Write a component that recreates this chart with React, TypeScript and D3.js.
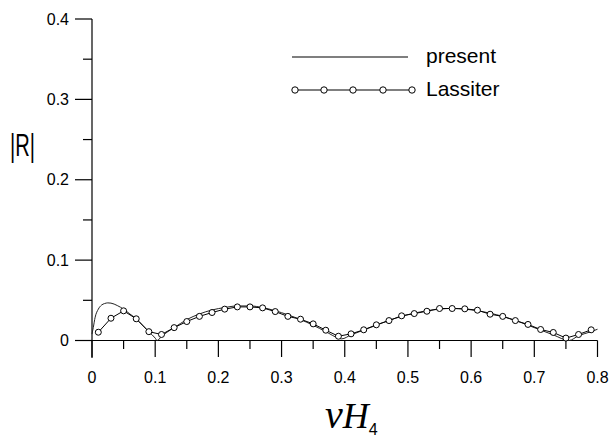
import React from "react";
import * as d3 from "d3";

const presentX = [0, 0.002, 0.005, 0.01, 0.015, 0.02, 0.025, 0.03, 0.04, 0.05, 0.06, 0.07, 0.08, 0.09, 0.1, 0.103, 0.11, 0.12, 0.13, 0.15, 0.17, 0.19, 0.21, 0.23, 0.25, 0.27, 0.29, 0.31, 0.33, 0.35, 0.37, 0.39, 0.395, 0.41, 0.43, 0.45, 0.47, 0.49, 0.51, 0.53, 0.55, 0.57, 0.59, 0.61, 0.63, 0.65, 0.67, 0.69, 0.71, 0.73, 0.755, 0.77, 0.79, 0.8];
const presentY = [0.008, 0.016, 0.029, 0.039, 0.044, 0.046, 0.0468, 0.0465, 0.0435, 0.039, 0.033, 0.027, 0.019, 0.011, 0.003, 0.0, 0.005, 0.011, 0.016, 0.026, 0.033, 0.038, 0.041, 0.043, 0.043, 0.041, 0.037, 0.032, 0.026, 0.019, 0.011, 0.003, 0.002, 0.007, 0.013, 0.019, 0.025, 0.03, 0.034, 0.037, 0.039, 0.04, 0.039, 0.037, 0.034, 0.03, 0.025, 0.019, 0.013, 0.007, 0.0, 0.006, 0.011, 0.014];

const lassiterX = [0.01, 0.03, 0.05, 0.07, 0.09, 0.11, 0.13, 0.15, 0.17, 0.19, 0.21, 0.23, 0.25, 0.27, 0.29, 0.31, 0.33, 0.35, 0.37, 0.39, 0.41, 0.43, 0.45, 0.47, 0.49, 0.51, 0.53, 0.55, 0.57, 0.59, 0.61, 0.63, 0.65, 0.67, 0.69, 0.71, 0.73, 0.75, 0.77, 0.79];
const lassiterY = [0.0103, 0.0277, 0.0369, 0.027, 0.011, 0.0075, 0.016, 0.0236, 0.03, 0.0348, 0.039, 0.0418, 0.0418, 0.0406, 0.036, 0.03, 0.0265, 0.0207, 0.0128, 0.0053, 0.0083, 0.0133, 0.0195, 0.0248, 0.0307, 0.0335, 0.0364, 0.0398, 0.0398, 0.0394, 0.0377, 0.0327, 0.03, 0.0248, 0.02, 0.0137, 0.01, 0.003, 0.0075, 0.0133];

const xTicks = [0, 0.1, 0.2, 0.3, 0.4, 0.5, 0.6, 0.7, 0.8];
const xTickLabels = ["0", "0.1", "0.2", "0.3", "0.4", "0.5", "0.6", "0.7", "0.8"];
const xMinorTicks = [0.05, 0.15, 0.25, 0.35, 0.45, 0.55, 0.65, 0.75];
const yTicks = [0, 0.1, 0.2, 0.3, 0.4];
const yTickLabels = ["0", "0.1", "0.2", "0.3", "0.4"];
const yMinorTicks = [0.05, 0.15, 0.25, 0.35];
const seriesNames = ["present", "Lassiter"];

export default function App() {
  const x = d3.scaleLinear().domain([0, 0.8]).range([92, 597.5]);
  const y = d3.scaleLinear().domain([0, 0.4]).range([340.5, 19]);
  const line = d3.line<number>().x((d) => x(presentX[d])).y((d) => y(presentY[d])).curve(d3.curveMonotoneX);
  const lline = d3.line<number>().x((d) => x(lassiterX[d])).y((d) => y(lassiterY[d]));
  const font = "'Liberation Sans', Arial, sans-serif";
  const serif = "'Liberation Serif', 'Times New Roman', serif";
  const legendCircles = [295, 324, 353, 383, 412];
  return (
    <svg width={611} height={437} style={{ position: "absolute", left: 0, top: 0, background: "#fff" }}>
      <g stroke="#000" strokeWidth={1.2} fill="none">
        <line x1={x(0)} x2={x(0)} y1={y(0.4)} y2={358} />
        <line x1={76} x2={x(0.8)} y1={y(0)} y2={y(0)} />
        {xTicks.map((t) => (
          <line key={"xt" + t} x1={x(t)} x2={x(t)} y1={y(0)} y2={357} />
        ))}
        {xMinorTicks.map((t) => (
          <line key={"xm" + t} x1={x(t)} x2={x(t)} y1={y(0)} y2={349} />
        ))}
        {yTicks.map((t) => (
          <line key={"yt" + t} x1={75} x2={x(0)} y1={y(t)} y2={y(t)} />
        ))}
        {yMinorTicks.map((t) => (
          <line key={"ym" + t} x1={83} x2={x(0)} y1={y(t)} y2={y(t)} />
        ))}
      </g>
      <g fontFamily={font} fontSize={16} fill="#000">
        {xTicks.map((t, i) => (
          <text key={"xl" + t} x={x(t)} y={382.5} textAnchor="middle">{xTickLabels[i]}</text>
        ))}
        {yTicks.map((t, i) => (
          <text key={"yl" + t} x={69} y={y(t) + 5.5} textAnchor="end">{yTickLabels[i]}</text>
        ))}
      </g>
      <text x={10} y={156} fontFamily={font} fontSize={32} fill="#000" textLength={25} lengthAdjust="spacingAndGlyphs">|R|</text>
      <text x={325} y={428} fontFamily={serif} fontStyle="italic" fill="#000">
        <tspan fontSize={40}>v</tspan>
        <tspan fontSize={36}>H</tspan>
        <tspan fontFamily={font} fontStyle="normal" fontSize={16} dy={7}>4</tspan>
      </text>
      <path d={line(d3.range(presentX.length)) || ""} fill="none" stroke="#222" strokeWidth={1} />
      <path d={lline(d3.range(lassiterX.length)) || ""} fill="none" stroke="#000" strokeWidth={1} />
      {lassiterX.map((v, i) => (
        <circle key={"c" + i} cx={x(v)} cy={y(lassiterY[i])} r={3} fill="#fff" stroke="#000" strokeWidth={1} />
      ))}
      <line x1={292} x2={408} y1={57} y2={57} stroke="#000" strokeWidth={1.2} />
      <text x={426} y={63} fontFamily={font} fontSize={21} fill="#000">{seriesNames[0]}</text>
      <line x1={295} x2={412} y1={90} y2={90} stroke="#000" strokeWidth={1.2} />
      {legendCircles.map((cx) => (
        <circle key={"lc" + cx} cx={cx} cy={90} r={3.2} fill="#fff" stroke="#000" strokeWidth={1} />
      ))}
      <text x={426} y={96} fontFamily={font} fontSize={21} fill="#000">{seriesNames[1]}</text>
    </svg>
  );
}
